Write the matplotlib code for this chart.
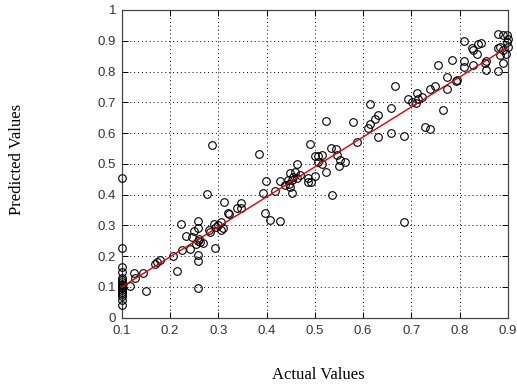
import numpy as np
import matplotlib
matplotlib.use('Agg')
import matplotlib.pyplot as plt

# actual vs predicted
actual = [0.1]*17 + [
    0.117, 0.126, 0.128, 0.145, 0.151, 0.168, 0.173, 0.179, 0.206, 0.215,
    0.222, 0.225, 0.234, 0.241, 0.246, 0.25, 0.253, 0.257, 0.257, 0.258,
    0.26, 0.262, 0.257, 0.258, 0.259, 0.269, 0.276, 0.28, 0.283, 0.286,
    0.292, 0.293, 0.296, 0.3, 0.305, 0.31, 0.305, 0.312, 0.321, 0.323,
    0.338, 0.348, 0.348,
    0.385, 0.392, 0.399, 0.397, 0.408, 0.428, 0.417, 0.428, 0.438, 0.445,
    0.452, 0.447, 0.455, 0.462, 0.469, 0.486, 0.448, 0.459, 0.462, 0.452,
    0.448, 0.486, 0.491, 0.5, 0.49, 0.5, 0.507, 0.514, 0.507, 0.514,
    0.523, 0.524, 0.533, 0.544, 0.545, 0.552, 0.55, 0.562, 0.535, 0.578,
    0.588,
    0.614, 0.614, 0.61, 0.631, 0.624, 0.631, 0.658, 0.658, 0.666, 0.685,
    0.685, 0.693, 0.702, 0.709, 0.711, 0.714, 0.721, 0.729, 0.738, 0.738,
    0.749, 0.755, 0.765, 0.773, 0.773, 0.783, 0.792, 0.794, 0.809, 0.809,
    0.809, 0.827, 0.828, 0.825, 0.838, 0.845, 0.835, 0.854, 0.852, 0.854,
    0.88, 0.89, 0.898, 0.898, 0.883, 0.88, 0.89, 0.896, 0.883, 0.89,
    0.88, 0.9, 0.9]
predicted = [0.453, 0.228, 0.165, 0.15, 0.13, 0.122, 0.115, 0.11, 0.105, 0.1,
             0.095, 0.09, 0.085, 0.078, 0.07, 0.057, 0.041] + [
    0.104, 0.144, 0.13, 0.144, 0.088, 0.174, 0.182, 0.187, 0.2, 0.152,
    0.303, 0.219, 0.265, 0.222, 0.263, 0.282, 0.241, 0.315, 0.292, 0.25,
    0.255, 0.245, 0.205, 0.184, 0.098, 0.243, 0.402, 0.284, 0.279, 0.561,
    0.306, 0.227, 0.295, 0.3, 0.31, 0.29, 0.285, 0.377, 0.341, 0.336,
    0.355, 0.373, 0.355,
    0.531, 0.406, 0.445, 0.341, 0.317, 0.314, 0.412, 0.445, 0.431, 0.449,
    0.404, 0.436, 0.458, 0.453, 0.463, 0.442, 0.469, 0.474, 0.501, 0.447,
    0.425, 0.453, 0.442, 0.46, 0.566, 0.525, 0.525, 0.528, 0.506, 0.501,
    0.474, 0.64, 0.553, 0.547, 0.528, 0.512, 0.493, 0.505, 0.4, 0.636,
    0.571,
    0.696, 0.628, 0.615, 0.66, 0.647, 0.588, 0.68, 0.599, 0.753, 0.59,
    0.31, 0.71, 0.701, 0.698, 0.729, 0.712, 0.718, 0.62, 0.612, 0.742,
    0.752, 0.82, 0.674, 0.782, 0.742, 0.839, 0.769, 0.772, 0.899, 0.834,
    0.815, 0.82, 0.869, 0.875, 0.889, 0.893, 0.858, 0.834, 0.828, 0.804,
    0.923, 0.918, 0.918, 0.896, 0.88, 0.875, 0.871, 0.858, 0.853, 0.828,
    0.801, 0.88, 0.905]

fit_x = [0.1, 0.9]
fit_y = [0.1, 0.88]

xticks = [0.1, 0.2, 0.3, 0.4, 0.5, 0.6, 0.7, 0.8, 0.9]
xtick_labels = ['0.1', '0.2', '0.3', '0.4', '0.5', '0.6', '0.7', '0.8', '0.9']
yticks = [0, 0.1, 0.2, 0.3, 0.4, 0.5, 0.6, 0.7, 0.8, 0.9, 1]
ytick_labels = ['0', '0.1', '0.2', '0.3', '0.4', '0.5', '0.6', '0.7', '0.8', '0.9', '1']

fig = plt.figure(figsize=(5.17, 3.9), dpi=100)
ax = fig.add_axes([0.2354, 0.1854, 0.7472, 0.789])

ax.plot(actual, predicted, 'o', mfc='none', mec='black', ms=5.5, mew=0.8,
        clip_on=False, zorder=3)
ax.plot(fit_x, fit_y, '-', color='#e00000', lw=1, zorder=4)

ax.set_xlim(0.1, 0.9)
ax.set_ylim(0, 1)
ax.set_xticks(xticks)
ax.set_xticklabels(xtick_labels)
ax.set_yticks(yticks)
ax.set_yticklabels(ytick_labels)
ax.grid(True, linestyle=(0, (1, 3)), color='black', lw=0.7)
ax.tick_params(direction='in', top=True, right=True, length=4, width=0.7,
               labelsize=9.5, labelcolor='#333333')
ax.tick_params(axis='x', pad=5)
ax.tick_params(axis='y', pad=4)
for lab in ax.get_xticklabels() + ax.get_yticklabels():
    lab.set_family('Liberation Sans')
for s in ax.spines.values():
    s.set_color('#444444')
    s.set_linewidth(0.9)

fig.text(0.615, 0.038, 'Actual Values', family='Liberation Serif',
         fontsize=12, ha='center', va='center')
fig.text(0.033, 0.59, 'Predicted Values', family='Liberation Serif',
         fontsize=12, ha='center', va='center', rotation=90)

fig.savefig('out.png', dpi=100)
